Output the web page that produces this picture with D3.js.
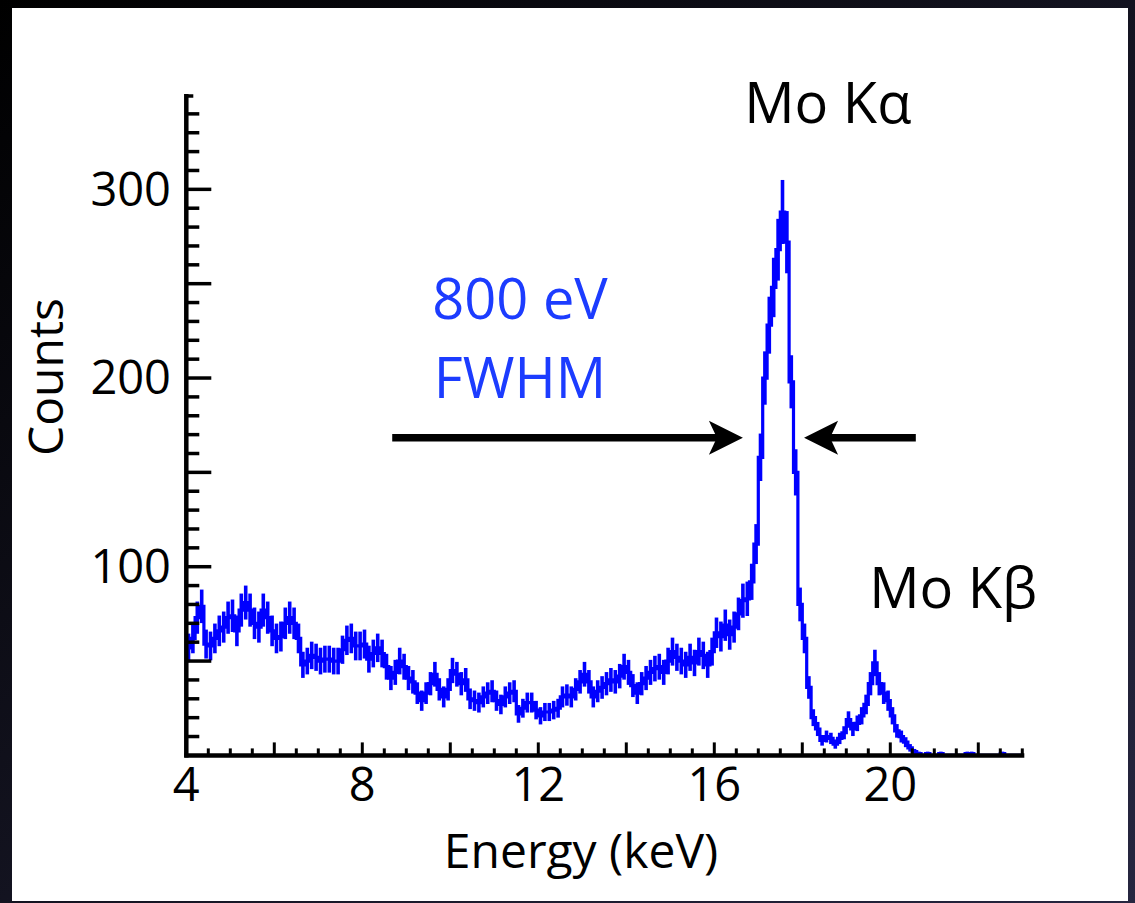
<!DOCTYPE html>
<html>
<head>
<meta charset="utf-8">
<script src="https://cdn.jsdelivr.net/npm/d3@7"></script>
<style>
  html, body { margin: 0; padding: 0; background: #000; }
  svg { display: block; }
  text { font-family: "Open Sans", "Noto Sans", sans-serif; }
</style>
</head>
<body>
<svg width="1135" height="903"></svg>
<script>
// spectrum: counts per 0.1 keV bin, first bin starts at 4.0 keV
const binStart = 4.0;
const binWidth = 0.1;
const counts = [
  57, 62, 73, 79, 59, 58, 62, 66, 68, 73,
  74, 66, 77, 81, 77, 70, 68, 77, 73, 66,
  62, 63, 70, 73, 70, 62, 48, 50, 53, 52,
  50, 51, 51, 50, 50, 56, 61, 62, 58, 58,
  59, 51, 54, 57, 54, 47, 41, 44, 50, 47,
  41, 39, 33, 29, 33, 38, 43, 35, 31, 35,
  45, 43, 38, 40, 30, 29, 28, 31, 33, 34,
  29, 27, 31, 33, 34, 22, 25, 28, 28, 24,
  21, 23, 23, 24, 25, 31, 32, 31, 35, 39,
  43, 39, 31, 34, 36, 38, 40, 39, 42, 47,
  44, 37, 33, 38, 41, 44, 46, 47, 44, 50,
  55, 52, 50, 48, 52, 49, 55, 53, 48, 55,
  65, 63, 69, 64, 68, 75, 82, 83, 92, 112,
  158, 200, 228, 248, 268, 288, 272, 198, 150, 80,
  62, 36, 20, 14, 8, 10, 9, 6, 9, 12,
  19, 14, 17, 21, 27, 38, 49, 38, 33, 29,
  21, 13, 10, 7, 4, 2, 1, 0, 1, 0,
  0, 1, 0, 0, 0, 0, 0, 1, 1, 0,
  0, 0, 0, 0, 0, 1, 0, 0, 0, 0
];

// axes
const xDomain = [4, 23];
const yDomain = [0, 350];
const xTickLabels = [4, 8, 12, 16, 20];
const yTickLabels = [100, 200, 300];

// annotations (keV, counts)
const peakLabels = [
  { text: "Mo K\u03b1", keV: 18.58, count: 335 },
  { text: "Mo K\u03b2", keV: 21.43, count: 78 }
];
const fwhmLabel = ["800 eV", "FWHM"];
const fwhmArrows = [
  { from: 8.68, to: 16.65, count: 168.4 },
  { from: 20.58, to: 18.04, count: 168.4 }
];

const W = 1135, H = 903;
const svg = d3.select("svg");

// dark frame + white panel
const defs = svg.append("defs");
const grad = defs.append("linearGradient")
    .attr("id", "frame")
    .attr("x1", "0%").attr("y1", "0%")
    .attr("x2", "100%").attr("y2", "100%");
grad.append("stop").attr("offset", "0%").attr("stop-color", "#000000");
grad.append("stop").attr("offset", "100%").attr("stop-color", "#262640");

svg.append("rect").attr("width", W).attr("height", H).attr("fill", "url(#frame)");
svg.append("rect")
    .attr("x", 12).attr("y", 8)
    .attr("width", 1116).attr("height", 893)
    .attr("fill", "#ffffff");

const x = d3.scaleLinear().domain(xDomain).range([186.3, 1022.3]);
const y = d3.scaleLinear().domain(yDomain).range([755.4, 95]);

const blue = "#0000ff";

// histogram data
const bins = counts.map((c, i) => ({
    x0: binStart + i * binWidth,
    x1: binStart + (i + 1) * binWidth,
    c: c
}));

// error bars (poisson)
svg.append("g")
    .selectAll("line")
    .data(bins.filter(d => d.c > 0))
    .join("line")
    .attr("x1", d => x((d.x0 + d.x1) / 2))
    .attr("x2", d => x((d.x0 + d.x1) / 2))
    .attr("y1", d => y(d.c + Math.sqrt(d.c)))
    .attr("y2", d => y(Math.max(0, d.c - Math.sqrt(d.c))))
    .attr("stroke", blue)
    .attr("stroke-width", 3.6);

// step line
const stepPts = bins.map(d => [d.x0, d.c]);
stepPts.push([bins[bins.length - 1].x1, bins[bins.length - 1].c]);
svg.append("path")
    .datum(stepPts)
    .attr("fill", "none")
    .attr("stroke", blue)
    .attr("stroke-width", 3.2)
    .attr("d", d3.line()
        .x(d => x(d[0]))
        .y(d => y(d[1]))
        .curve(d3.curveStepAfter));

// y axis
const axisG = svg.append("g").attr("stroke", "#000");
axisG.append("line")
    .attr("x1", x(4)).attr("x2", x(4))
    .attr("y1", y(350) - 1).attr("y2", y(0) + 2)
    .attr("stroke-width", 4.5);

const yMinor = d3.range(10, 350, 10);
axisG.selectAll(".ytick")
    .data(yMinor)
    .join("line")
    .attr("class", "ytick")
    .attr("x1", x(4))
    .attr("x2", d => x(4) + (d % 50 === 0 ? 25 : 13))
    .attr("y1", d => y(d)).attr("y2", d => y(d))
    .attr("stroke-width", 3.5);
// top cap
axisG.append("line")
    .attr("x1", x(4)).attr("x2", x(4) + 7)
    .attr("y1", y(350) + 1).attr("y2", y(350) + 1)
    .attr("stroke-width", 3.5);

// x axis
axisG.append("line")
    .attr("x1", x(4) - 2).attr("x2", x(23) + 2)
    .attr("y1", y(0)).attr("y2", y(0))
    .attr("stroke-width", 4.5);

const xMinor = d3.range(4.5, 23.001, 0.5);
axisG.selectAll(".xtick")
    .data(xMinor)
    .join("line")
    .attr("class", "xtick")
    .attr("x1", d => x(d)).attr("x2", d => x(d))
    .attr("y1", y(0))
    .attr("y2", d => y(0) - (Math.abs(d % 2) < 1e-6 ? 13 : 7))
    .attr("stroke-width", 3);

// tick labels
svg.append("g")
    .selectAll("text")
    .data(yTickLabels)
    .join("text")
    .attr("x", 171)
    .attr("y", d => y(d))
    .attr("dy", "0.35em")
    .attr("text-anchor", "end")
    .attr("font-size", 47)
    .attr("fill", "#000")
    .text(d => d);

svg.append("g")
    .selectAll("text")
    .data(xTickLabels)
    .join("text")
    .attr("x", d => x(d))
    .attr("y", 801)
    .attr("text-anchor", "middle")
    .attr("font-size", 47)
    .attr("fill", "#000")
    .text(d => d);

// axis titles
svg.append("text")
    .attr("x", 581).attr("y", 868)
    .attr("text-anchor", "middle")
    .attr("font-size", 48)
    .text("Energy (keV)");

svg.append("text")
    .attr("transform", "translate(63,377) rotate(-90)")
    .attr("text-anchor", "middle")
    .attr("font-size", 48)
    .text("Counts");

// peak labels
svg.append("g")
    .selectAll("text")
    .data(peakLabels)
    .join("text")
    .attr("x", d => x(d.keV))
    .attr("y", d => y(d.count))
    .attr("text-anchor", "middle")
    .attr("font-size", 56)
    .text(d => d.text);

// FWHM label
svg.append("g")
    .selectAll("text")
    .data(fwhmLabel)
    .join("text")
    .attr("x", 520)
    .attr("y", (d, i) => 319 + i * 79)
    .attr("text-anchor", "middle")
    .attr("font-size", 56)
    .attr("fill", "#1c3cff")
    .text(d => d);

// FWHM arrows
const headLen = 34, headHalf = 17, notch = 8;
fwhmArrows.forEach(a => {
    const dir = a.to > a.from ? 1 : -1;
    const tx = x(a.to), ty = y(a.count);
    svg.append("line")
        .attr("x1", x(a.from)).attr("x2", tx - dir * (headLen - notch - 2))
        .attr("y1", ty).attr("y2", ty)
        .attr("stroke", "#000")
        .attr("stroke-width", 7.5);
    const p = d3.path();
    p.moveTo(tx, ty);
    p.lineTo(tx - dir * headLen, ty - headHalf);
    p.lineTo(tx - dir * (headLen - notch), ty);
    p.lineTo(tx - dir * headLen, ty + headHalf);
    p.closePath();
    svg.append("path").attr("d", p.toString()).attr("fill", "#000");
});
</script>
</body>
</html>
